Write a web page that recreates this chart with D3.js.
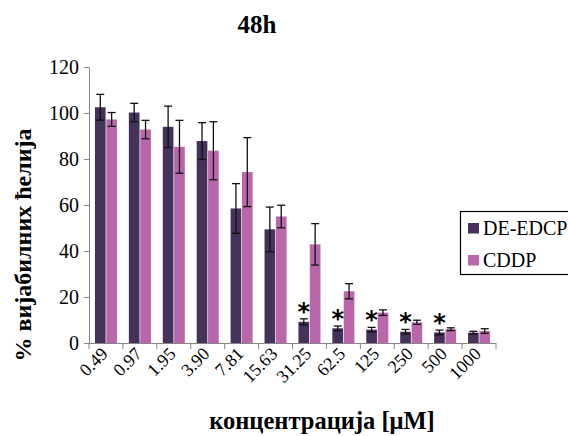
<!DOCTYPE html>
<html>
<head>
<meta charset="utf-8">
<script src="https://cdn.jsdelivr.net/npm/d3@7/dist/d3.min.js"></script>
<style>
  html, body { margin: 0; padding: 0; background: #fff; }
  svg { display: block; }
</style>
</head>
<body>
<svg id="chart" width="568" height="436"></svg>
<script>
// Concentrations (µM)
const categories = ["0.49", "0.97", "1.95", "3.90", "7.81", "15.63", "31.25", "62.5", "125", "250", "500", "1000"];
const seriesNames = ["DE-EDCP", "CDDP"];

// Viable cells (%) after 48h, mean and error
const deEdcp    = [102.5, 100.2, 94.0, 87.8, 58.5, 49.4, 9.2, 6.4, 5.8, 4.9, 4.6, 4.5];
const deEdcpErr = [5.6, 4.0, 9.0, 8.0, 10.8, 9.7, 1.3, 1.0, 1.0, 1.0, 1.0, 0.6];
const cddp      = [97.2, 92.8, 85.3, 83.6, 74.3, 55.0, 42.9, 22.5, 13.2, 9.0, 6.0, 5.2];
const cddpErr   = [3.0, 4.0, 11.5, 12.6, 15.0, 4.9, 9.0, 3.3, 1.2, 0.9, 0.6, 1.0];

// Significant differences marked above DE-EDCP bars
const significant = ["31.25", "62.5", "125", "250", "500"];

const yTicks = [0, 20, 40, 60, 80, 100, 120];
const colors = ["#45325a", "#b966aa"];
const SERIF = "'Liberation Serif', 'Times New Roman', serif";

const svg = d3.select("#chart");
const margin = { left: 89, right: 496, top: 67, bottom: 343 };

const x0 = d3.scaleBand()
  .domain(categories)
  .range([margin.left, margin.right])
  .paddingInner(0.35)
  .paddingOuter(0.175);

const x1 = d3.scaleBand()
  .domain(seriesNames)
  .range([0, x0.bandwidth()])
  .paddingInner(0.06);

const y = d3.scaleLinear().domain([0, 120]).range([margin.bottom, margin.top]);

const rows = categories.map((c, i) => ({
  cat: c,
  vals: [
    { s: seriesNames[0], v: deEdcp[i], e: deEdcpErr[i] },
    { s: seriesNames[1], v: cddp[i], e: cddpErr[i] }
  ]
}));

// Bars
const groups = svg.append("g").selectAll("g")
  .data(rows).join("g")
  .attr("transform", d => `translate(${x0(d.cat)},0)`);

groups.selectAll("rect")
  .data(d => d.vals).join("rect")
  .attr("x", d => x1(d.s))
  .attr("width", x1.bandwidth())
  .attr("y", d => y(d.v))
  .attr("height", d => y(0) - y(d.v))
  .attr("fill", (d, i) => colors[i]);

// Error bars
const capW = 8;
const eb = groups.selectAll("g.err")
  .data(d => d.vals).join("g").attr("class", "err")
  .attr("stroke", "#111").attr("stroke-width", 1.3);
eb.append("line")
  .attr("x1", d => x1(d.s) + x1.bandwidth() / 2)
  .attr("x2", d => x1(d.s) + x1.bandwidth() / 2)
  .attr("y1", d => y(d.v + d.e))
  .attr("y2", d => y(d.v - d.e));
eb.append("line")
  .attr("x1", d => x1(d.s) + x1.bandwidth() / 2 - capW / 2)
  .attr("x2", d => x1(d.s) + x1.bandwidth() / 2 + capW / 2)
  .attr("y1", d => y(d.v + d.e)).attr("y2", d => y(d.v + d.e));
eb.append("line")
  .attr("x1", d => x1(d.s) + x1.bandwidth() / 2 - capW / 2)
  .attr("x2", d => x1(d.s) + x1.bandwidth() / 2 + capW / 2)
  .attr("y1", d => y(d.v - d.e)).attr("y2", d => y(d.v - d.e));

// Significance asterisks
groups.filter(d => significant.includes(d.cat))
  .append("text")
  .attr("x", x1(seriesNames[0]) + x1.bandwidth() / 2)
  .attr("y", d => y(d.vals[0].v + d.vals[0].e) + 1)
  .attr("text-anchor", "middle")
  .attr("font-size", 24)
  .attr("font-weight", "bold")
  .style("font-family", "'DejaVu Sans', sans-serif")
  .text("*");

// Y axis
const yAxis = svg.append("g")
  .attr("transform", `translate(${margin.left},0)`)
  .call(d3.axisLeft(y).tickValues(yTicks).tickSize(5).tickSizeOuter(0).tickPadding(5));
yAxis.select(".domain").attr("stroke", "#868686");
yAxis.selectAll(".tick line").attr("stroke", "#868686");
yAxis.selectAll(".tick text")
  .attr("font-size", 20)
  .attr("fill", "#000")
  .style("font-family", SERIF);

// X axis: line with tick marks at category boundaries
const step = x0.step();
const boundaries = categories.map(c => x0(c) - step * x0.paddingInner() / 2);
boundaries.push(x0(categories[categories.length - 1]) + x0.bandwidth() + step * x0.paddingInner() / 2);

const xAxis = svg.append("g");
xAxis.append("line")
  .attr("x1", margin.left).attr("x2", boundaries[boundaries.length - 1])
  .attr("y1", y(0) + 0.5).attr("y2", y(0) + 0.5)
  .attr("stroke", "#868686");
xAxis.selectAll("line.tk")
  .data(boundaries).join("line").attr("class", "tk")
  .attr("x1", d => d).attr("x2", d => d)
  .attr("y1", y(0)).attr("y2", y(0) + 6)
  .attr("stroke", "#868686");

xAxis.selectAll("text.cat")
  .data(categories).join("text").attr("class", "cat")
  .attr("transform", d => `translate(${x0(d) + x0.bandwidth() / 2 + 3},${y(0) + 12}) rotate(-45)`)
  .attr("text-anchor", "end")
  .attr("font-size", 18)
  .style("font-family", SERIF)
  .text(d => d);

// Titles
svg.append("text")
  .attr("x", 257).attr("y", 33)
  .attr("text-anchor", "middle")
  .attr("font-size", 25).attr("font-weight", "bold")
  .style("font-family", SERIF)
  .text("48h");

svg.append("text")
  .attr("x", 322).attr("y", 429)
  .attr("text-anchor", "middle")
  .attr("font-size", 24.5).attr("font-weight", "bold")
  .style("font-family", SERIF)
  .text("концентрација [μM]");

svg.append("text")
  .attr("transform", "translate(31,245) rotate(-90)")
  .attr("text-anchor", "middle")
  .attr("font-size", 24).attr("font-weight", "bold")
  .style("font-family", SERIF)
  .text("% вијабилних ћелија");

// Legend
const legend = svg.append("g");
legend.append("rect")
  .attr("x", 460.5).attr("y", 211.5)
  .attr("width", 115).attr("height", 63)
  .attr("fill", "#fff").attr("stroke", "#000").attr("stroke-width", 1.2);
const li = legend.selectAll("g.item")
  .data(seriesNames).join("g").attr("class", "item")
  .attr("transform", (d, i) => `translate(468,${223 + i * 32})`);
li.append("rect").attr("width", 11).attr("height", 10.5)
  .attr("fill", (d, i) => colors[i]);
li.append("text").attr("x", 15).attr("y", 12)
  .attr("font-size", 20)
  .style("font-family", SERIF)
  .text(d => d);
</script>
</body>
</html>
